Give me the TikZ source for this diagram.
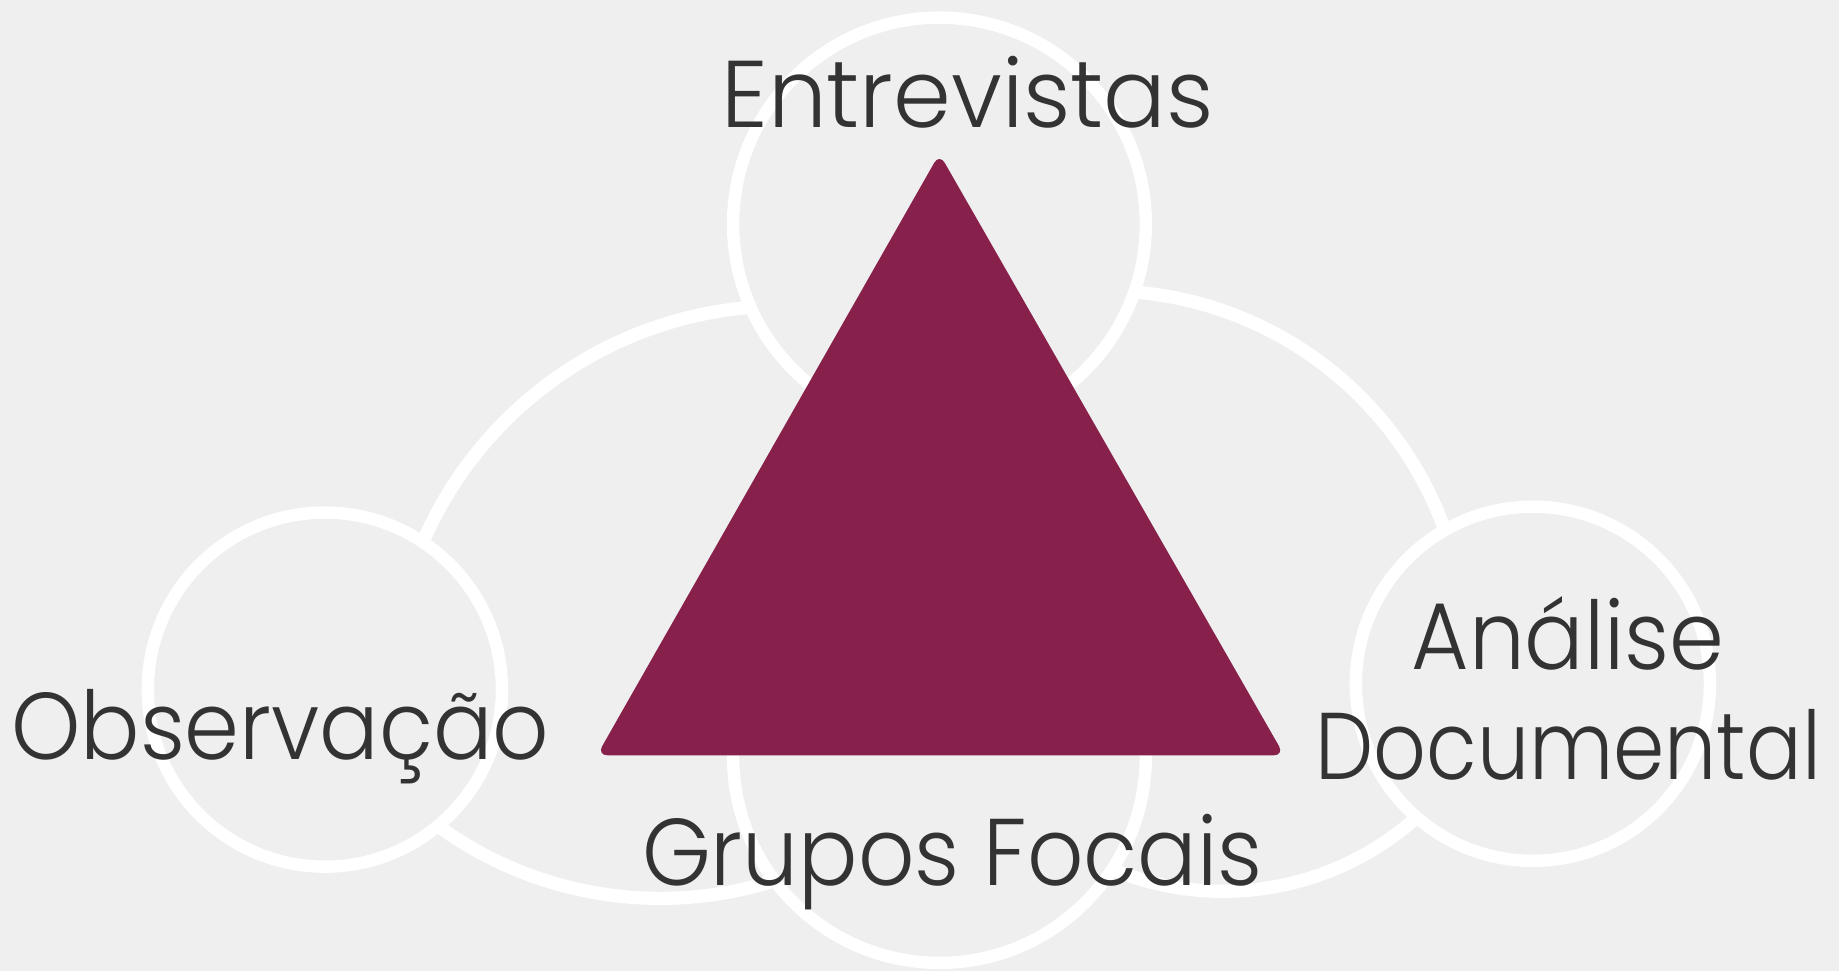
\documentclass[tikz,border=0pt]{standalone}
\usepackage{fontspec}
\setmainfont{Poppins}[UprightFont=* Light, FakeStretch=0.93]
\newfontfamily\mmwide{Poppins}[UprightFont=* Light, FakeStretch=0.98]
\newfontfamily\mmnarrow{Poppins}[UprightFont=* Light, FakeStretch=0.87]
\usepackage{tikz}
\usetikzlibrary{calc}
\definecolor{mmBack}{HTML}{EFEFEF}
\definecolor{mmWine}{HTML}{87204A}
\definecolor{mmInk}{HTML}{333333}
\tikzset{
  mmring/.style={circle, draw=white, fill=mmBack, line width=6pt, inner sep=0pt},
  mmlink/.style={draw=white, line width=6.4pt, line cap=round},
  mmtri/.style={fill=mmWine, rounded corners=0.18cm},
  mmlabel/.style={text=mmInk, inner sep=0pt, anchor=base, align=center,
                  font=\fontsize{46}{53.4}\selectfont},
}
\begin{document}
\begin{tikzpicture}[x=0.02cm, y=0.02cm]
\fill[mmBack] (0,0) rectangle (1568,828);
\useasboundingbox (0,0) rectangle (1568,828);
% centres of the big outer arcs
\coordinate (ulc) at (667,233);
\coordinate (urc) at (942,272);
\coordinate (llc) at (563,384);
\coordinate (lrc) at (1043,315);
\draw[mmlink] ($(ulc)+(92:334)$) arc[start angle=92, end angle=160, radius=334];
\draw[mmlink] ($(urc)+(17:308)$) arc[start angle=17, end angle=88, radius=308];
\draw[mmlink] ($(llc)+(230:322)$) arc[start angle=230, end angle=292, radius=322];
\draw[mmlink] ($(lrc)+(244:247)$) arc[start angle=244, end angle=314, radius=247];

% rings
\node[mmring, minimum size=7.04cm] (top) at (801,637) {};
\node[mmring, minimum size=6.04cm] (left) at (277,240) {};
\node[mmring, minimum size=6.04cm] (right) at (1307,245) {};
\node[mmring, minimum size=7.04cm] (bottom) at (801,183) {};

% triangle
\coordinate (apex) at (801,697);
\coordinate (botl) at (509,184);
\coordinate (botr) at (1095,184);
\fill[mmtri] (apex) -- (botr) -- (botl) -- cycle;

% labels
\node[mmlabel] (entrevistas) at (825,719) {\mmwide Entrevistas};
\node[mmlabel] (observacao) at (239,180) {Observação};
\node[mmlabel] (analise) at (1337,163.5) {Análise\\{\mmnarrow Documental}};
\node[mmlabel] (grupos) at (812,73) {Grupos Focais};
\end{tikzpicture}
\end{document}
